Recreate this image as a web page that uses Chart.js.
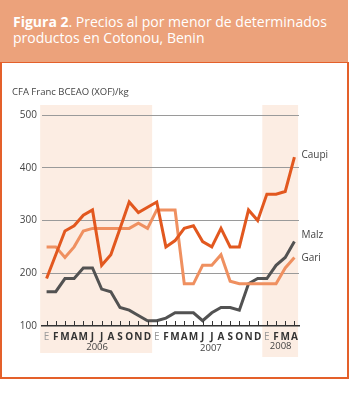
<!DOCTYPE html>
<html>
<head>
<meta charset="utf-8">
<script src="https://cdn.jsdelivr.net/npm/chart.js@4/dist/chart.umd.min.js"></script>
<style>
  body { margin: 0; width: 350px; height: 399px; background: #fff; position: relative; overflow: hidden; }
  #head {
    position: absolute; left: 0; top: 0; width: 335px; height: 48px;
    background: #eca27b; color: #fff;
    font-family: 'Open Sans', sans-serif; font-size: 14px; line-height: 15.5px;
    padding: 14px 0 0 13px;
  }
  #frame {
    position: absolute; left: 0; top: 62px; width: 345px; height: 314px;
    border: 2px solid #e4602a; border-top: 1px solid #e4602a;
  }
  #myChart { position: absolute; left: 0; top: 0; }
</style>
</head>
<body>
<div id="head"><b>Figura 2</b>. Precios al por menor de determinados<br>productos en Cotonou, Benin</div>
<div id="frame"></div>
<canvas id="myChart" width="350" height="399"></canvas>
<script>
months = ['E','F','M','A','M','J','J','A','S','O','N','D',
          'E','F','M','A','M','J','J','A','S','O','N','D',
          'E','F','M','A']
years = ['2006', '2007', '2008']

caupi = [190,235,280,290,310,320,215,235,285,335,315,325,
         335,250,262,285,290,260,250,285,250,250,320,300,
         350,350,355,420]
gari  = [250,250,230,250,280,285,285,285,285,285,295,285,
         320,320,320,180,180,215,215,235,185,180,180,180,
         180,180,210,230]
malz  = [165,165,190,190,210,210,170,165,135,130,120,110,
         110,115,125,125,125,110,125,135,135,130,180,190,
         190,215,230,260]

yTicks = [100, 200, 300, 400, 500]

var extras = {
  id: 'extras',
  beforeDraw: function(chart) {
    var c = chart.ctx, x = chart.scales.x
    var step = x.getPixelForValue(1) - x.getPixelForValue(0)
    c.save()
    c.fillStyle = '#fcede3'
    var a = x.getPixelForValue(0) - step * 0.7
    var b = x.getPixelForValue(11) + step * 0.5
    c.fillRect(a, 105, b - a, 248)
    a = x.getPixelForValue(24) - step * 0.5
    b = x.getPixelForValue(27) + step * 0.4
    c.fillRect(a, 105, b - a, 252)
    c.restore()
  },
  afterDraw: function(chart) {
    var c = chart.ctx, x = chart.scales.x, y = chart.scales.y
    var bottom = chart.chartArea.bottom
    c.save()
    // upward tick marks on the axis
    c.strokeStyle = '#333'
    c.lineWidth = 1
    for (var i = 0; i < months.length; i++) {
      var px = Math.round(x.getPixelForValue(i)) + 0.5
      c.beginPath()
      c.moveTo(px, bottom)
      c.lineTo(px, bottom - 5)
      c.stroke()
    }
    // year labels
    c.fillStyle = '#444'
    c.font = '9.5px "Open Sans"'
    c.textAlign = 'center'
    c.textBaseline = 'middle'
    var mids = [5.5, 17.9, 25.5]
    var ys = [347, 348, 346]
    years.forEach(function(t, k) {
      var p0 = x.getPixelForValue(Math.floor(mids[k]))
      var p1 = x.getPixelForValue(Math.ceil(mids[k]))
      var f = mids[k] - Math.floor(mids[k])
      c.fillText(t, p0 + (p1 - p0) * f, ys[k])
    })
    // axis title
    c.textAlign = 'left'
    c.font = '9.5px "Open Sans"'
    c.fillText('CFA Franc BCEAO (XOF)/kg', 12, 92)
    // series labels at line ends
    c.font = '10px "Open Sans"'
    var last = months.length - 1
    var px = x.getPixelForValue(last) + 7
    c.fillText('Caupi', px, y.getPixelForValue(caupi[last]) - 2)
    c.fillText('Malz', px, y.getPixelForValue(malz[last]) - 6)
    c.fillText('Gari', px, y.getPixelForValue(gari[last]) + 1)
    c.restore()
  }
}

document.addEventListener('DOMContentLoaded', function() {
  var ctx = document.getElementById('myChart').getContext('2d')
  var myChart = new Chart(ctx, {
    type: 'line',
    data: {
      labels: months,
      datasets: [
        { label: 'Caupi', data: caupi, borderColor: '#e2581f' },
        { label: 'Gari', data: gari, borderColor: '#ef9060' },
        { label: 'Malz', data: malz, borderColor: '#525252' }
      ]
    },
    options: {
      responsive: false,
      animation: false,
      layout: { padding: { top: 115, right: 51, bottom: 0, left: 0 } },
      elements: {
        line: { borderWidth: 3, tension: 0, fill: false, borderJoinStyle: 'miter' },
        point: { radius: 0 }
      },
      plugins: { legend: { display: false }, tooltip: { enabled: false } },
      scales: {
        x: {
          offset: true,
          grid: { display: false, drawTicks: false },
          border: { display: true, color: '#333', width: 1.5 },
          ticks: {
            autoSkip: false, maxRotation: 0, padding: 5,
            color: function(c) { return c.index % 12 == 0 ? '#999' : '#333' },
            font: function(c) {
              return { family: 'Open Sans', size: 10, weight: c.index % 12 == 0 ? 'normal' : 'bold' }
            }
          },
          afterFit: function(s) { s.height = 73 }
        },
        y: {
          min: 100, max: 500,
          afterBuildTicks: function(s) { s.ticks = yTicks.map(function(v) { return { value: v } }) },
          ticks: { padding: 5, color: '#444', font: { family: 'Open Sans', size: 10 } },
          grid: {
            drawTicks: false, lineWidth: 1,
            color: function(c) { return c.tick.value == 100 ? 'rgba(0,0,0,0)' : '#9a9a9a' }
          },
          border: { display: false },
          afterFit: function(s) { s.width = 42 }
        }
      }
    },
    plugins: [extras]
  })
})
</script>
</body>
</html>
